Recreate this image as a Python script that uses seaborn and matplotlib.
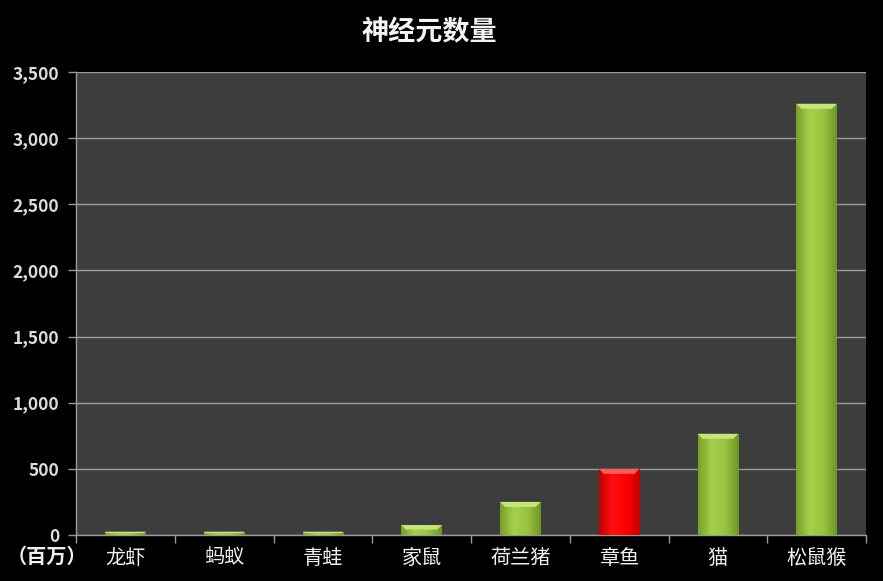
import numpy as np
import pandas as pd
import matplotlib
matplotlib.use("Agg")
import matplotlib.pyplot as plt
import seaborn as sns
from matplotlib.patches import Polygon
from matplotlib.colors import LinearSegmentedColormap
from matplotlib.ticker import FuncFormatter

# ---- data ----
categories = ["龙虾", "蚂蚁", "青蛙", "家鼠", "荷兰猪", "章鱼", "猫", "松鼠猴"]
neurons = [25, 25, 25, 75, 250, 500, 765, 3260]
highlight = "章鱼"
title = "神经元数量"
unit_label = "（百万）"

sns.set_theme(style="dark")
plt.rcParams["font.family"] = ["Noto Sans CJK SC", "DejaVu Sans"]

df = pd.DataFrame({"animal": categories, "neurons": neurons})

fig = plt.figure(figsize=(8.83, 5.81), dpi=100, facecolor="black")
ax = fig.add_axes([76 / 883, 46 / 581, 790 / 883, 463 / 581])
ax.set_facecolor("#3d3d3d")

green = "#9cca40"
red = "#ff0000"
palette = {c: (red if c == highlight else green) for c in categories}
sns.barplot(data=df, x="animal", y="neurons", hue="animal", palette=palette,
            order=categories, width=0.41, legend=False, ax=ax, zorder=3,
            saturation=1, linewidth=0, edgecolor="none")

ax.set_ylim(0, 3500)
ax.set_xlim(-0.5, len(categories) - 0.5)
ax.set_yticks(np.arange(0, 3501, 500))
ax.yaxis.set_major_formatter(FuncFormatter(lambda v, p: f"{int(v):,}"))
ax.grid(axis="y", color="#9a9a9a", linewidth=1.0, zorder=1)
ax.grid(axis="x", visible=False)

# gradients and bevels on bars, derived from bar geometry
fig.canvas.draw()
inv = ax.transData.inverted()
for patch, cat in zip(ax.patches, categories):
    x0, y0 = patch.get_x(), patch.get_y()
    w, h = patch.get_width(), patch.get_height()
    if cat == highlight:
        cols = ["#c40000", "#ff1010", "#ff0000", "#c80000"]
        top = "#ff5a5a"
    else:
        cols = ["#78a02c", "#a4d04a", "#98c440", "#6f9626"]
        top = "#c6e47a"
    cmap = LinearSegmentedColormap.from_list("g", cols)
    grad = np.linspace(0, 1, 64).reshape(1, -1)
    im = ax.imshow(grad, cmap=cmap, aspect="auto", extent=[x0, x0 + w, y0, y0 + h],
                   zorder=4, origin="lower")
    im.set_clip_path(patch)
    px0, py0 = ax.transData.transform((x0, y0 + h))
    px1, _ = ax.transData.transform((x0 + w, y0 + h))
    hpx = ax.transData.transform((x0, y0 + h))[1] - ax.transData.transform((x0, y0))[1]
    bev = min(5, max(1.5, hpx * 0.45))
    pts_pix = [(px0, py0), (px1, py0), (px1 - bev, py0 - bev), (px0 + bev, py0 - bev)]
    pts = inv.transform(pts_pix)
    ax.add_patch(Polygon(pts, closed=True, facecolor=top, edgecolor="none", zorder=5))

ax.set_xlim(-0.5, len(categories) - 0.5)
ax.set_ylim(0, 3500)

for s in ["top", "right"]:
    ax.spines[s].set_visible(False)
for s in ["left", "bottom"]:
    ax.spines[s].set_color("#9a9a9a")
    ax.spines[s].set_linewidth(1.0)

ax.set_xlabel("")
ax.set_ylabel("")
ax.tick_params(axis="y", colors="#9a9a9a", labelcolor="#dcdcdc", length=6, width=1,
               labelsize=12.5, pad=6, left=True, direction="out")
ax.tick_params(axis="x", which="major", length=0, labelcolor="#f0f0f0",
               labelsize=14.5, pad=9)
ax.set_xticks(np.arange(-0.5, len(categories), 1), minor=True)
ax.tick_params(axis="x", which="minor", length=6, width=1, color="#9a9a9a",
               bottom=True, direction="out")
for lbl in ax.get_yticklabels():
    lbl.set_fontweight("bold")

fig.text(0.486, 0.945, title, ha="center", va="center", color="#f4f4f4",
         fontsize=19.5, fontweight="bold")
fig.text(47 / 883, 1 - 556 / 581, unit_label, ha="center", va="center",
         color="#f0f0f0", fontsize=14.5, fontweight="bold")

fig.savefig("out.png", dpi=100, facecolor="black")
